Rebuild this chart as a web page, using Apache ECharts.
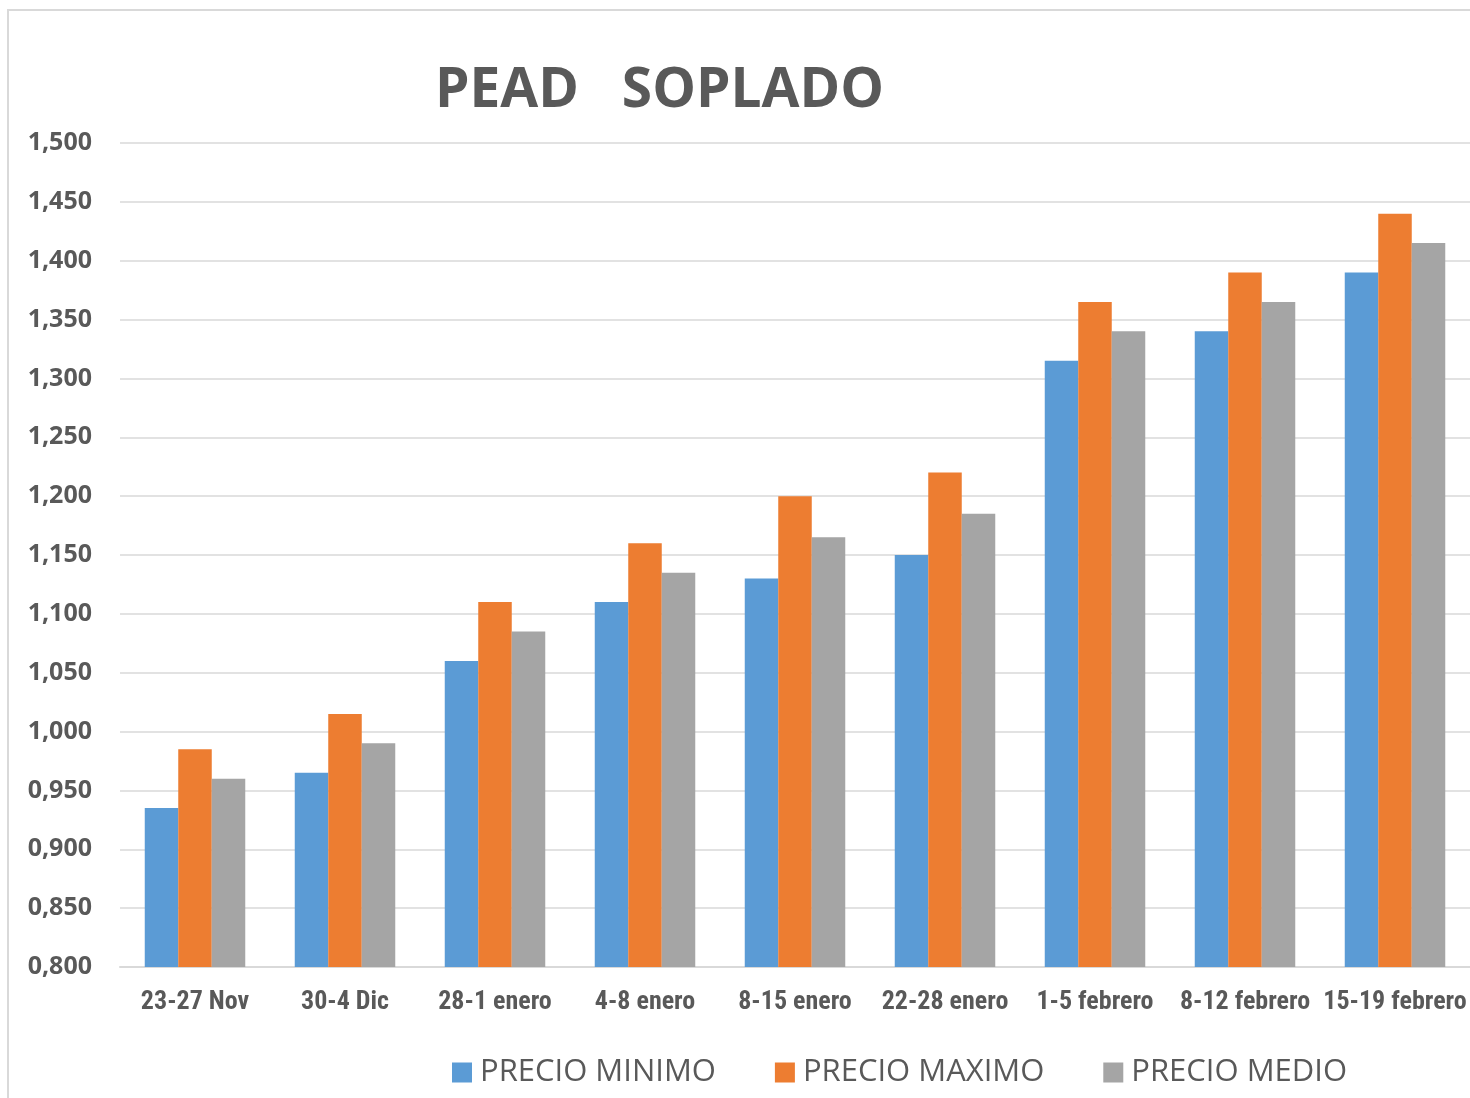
<!DOCTYPE html>
<html><head><meta charset="utf-8">
<script src="https://cdn.jsdelivr.net/npm/echarts@6/dist/echarts.min.js"></script>
<style>html,body{margin:0;padding:0;background:#fff}#c{width:1470px;height:1098px}</style>
</head><body><div id="c"></div>
<script>
const categories = ['23-27 Nov','30-4 Dic','28-1 enero','4-8 enero','8-15 enero','22-28 enero','1-5 febrero','8-12 febrero','15-19 febrero'];
const precioMinimo = [0.935,0.965,1.060,1.110,1.130,1.150,1.315,1.340,1.390];
const precioMaximo = [0.985,1.015,1.110,1.160,1.200,1.220,1.365,1.390,1.440];
const precioMedio  = [0.960,0.990,1.085,1.135,1.165,1.185,1.340,1.365,1.415];
const seriesNames = ['PRECIO MINIMO','PRECIO MAXIMO','PRECIO MEDIO'];
const colors = ['#5B9BD5','#ED7D31','#A5A5A5'];

const chart = echarts.init(document.getElementById('c'));
const bar = (name, data, color) => ({
  name, type:'bar', data, barGap:'0%', barCategoryGap:'33%',
  itemStyle:{color}
});
chart.setOption({
  animation:false,
  graphic:[{type:'rect', shape:{x:8,y:10,width:1480,height:1100}, style:{fill:'none', stroke:'#d9d9d9', lineWidth:2}}],
  title:{text:'PEAD   SOPLADO', left:435, top:64, padding:0,
    textStyle:{fontFamily:'Open Sans', fontWeight:'bold', fontSize:55, color:'#595959'}},
  legend:{left:452, top:1057, padding:0, itemWidth:20, itemHeight:20, itemGap:59, icon:'rect',
    textStyle:{fontFamily:'Open Sans', fontSize:31, color:'#595959', padding:[0,0,0,3]},
    data:seriesNames},
  grid:{left:120, right:0, top:143, bottom:131, containLabel:false},
  xAxis:{type:'category', data:categories,
    axisLine:{lineStyle:{color:'#d9d9d9', width:2}}, axisTick:{show:false},
    axisLabel:{margin:22, fontFamily:'Liberation Sans Narrow, Arial Narrow, Roboto Condensed, sans-serif', fontWeight:'bold', fontSize:26, color:'#595959', interval:0}},
  yAxis:{type:'value', min:0.8, max:1.5, interval:0.05,
    axisLine:{show:false}, axisTick:{show:false},
    splitLine:{lineStyle:{color:'#d9d9d9', width:1.5}},
    axisLabel:{margin:28, fontFamily:'Open Sans', fontWeight:'bold', fontSize:25, color:'#595959',
      formatter:v=>v.toFixed(3).replace('.',',')}},
  series:[bar(seriesNames[0],precioMinimo,colors[0]),bar(seriesNames[1],precioMaximo,colors[1]),bar(seriesNames[2],precioMedio,colors[2])]
});
</script></body></html>
